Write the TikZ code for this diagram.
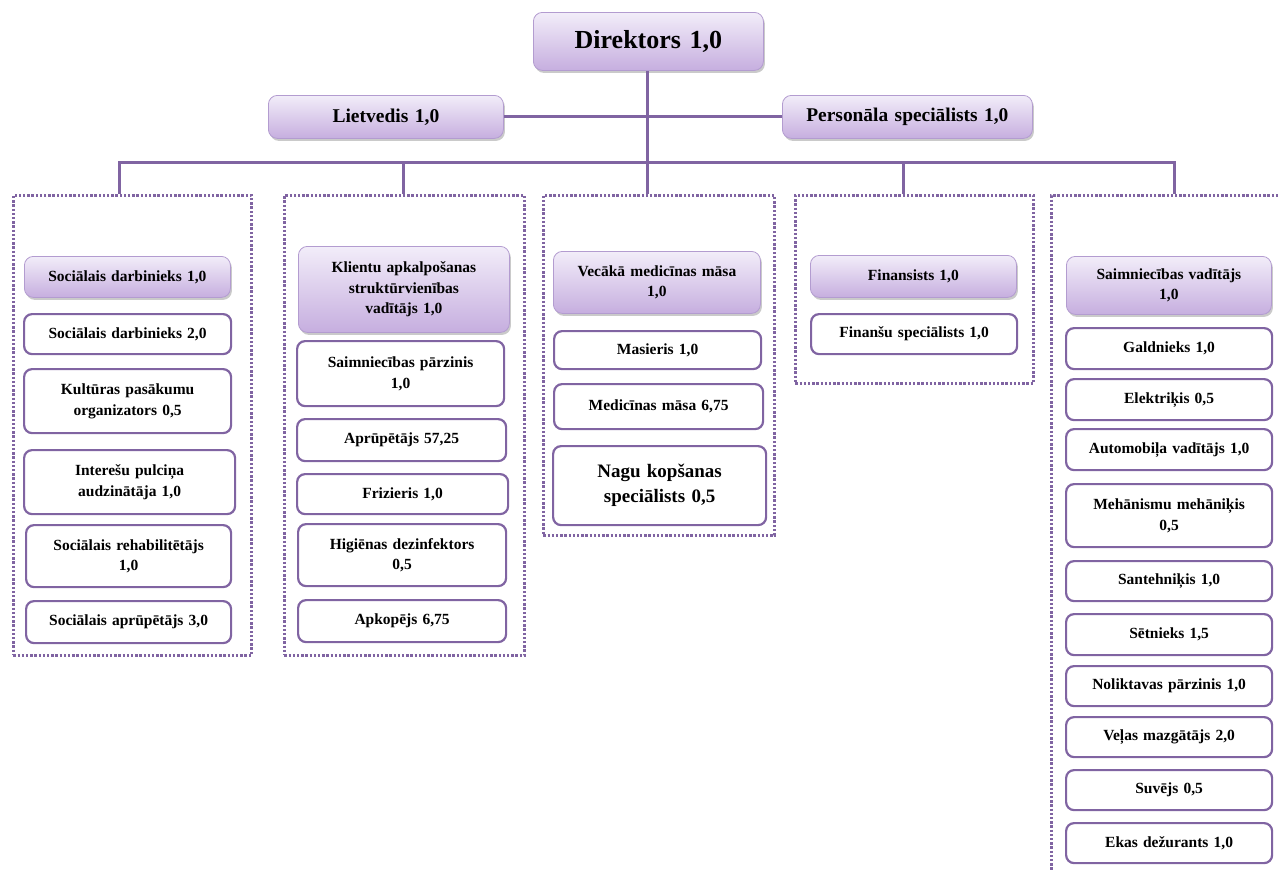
\documentclass[tikz,border=0pt]{standalone}
\usepackage{fontspec}
\setmainfont{Liberation Serif}
\usetikzlibrary{shadows}
\definecolor{lineP}{HTML}{8064A2}
\definecolor{pTop}{HTML}{F2EDF9}
\definecolor{pBot}{HTML}{C6AEDF}
\definecolor{pEdge}{HTML}{B39CD0}
\newcommand\fs[2]{\fontsize{#1}{#2}\selectfont\bfseries}
\tikzset{
  conn/.style={draw=lineP, line width=3pt},
  grp/.style={draw=lineP, line width=2.8pt, dash pattern=on 2.4pt off 1.8pt, anchor=north west, inner sep=0pt},
  wbox/.style={draw=lineP, line width=2.2pt, rounded corners=8pt, fill=white, anchor=north west, inner sep=0pt, align=center, text width=200pt, font=\fs{15.5}{20.5}},
  pbox/.style={draw=pEdge, line width=0.8pt, rounded corners=9pt, top color=pTop, bottom color=pBot,
    drop shadow={shadow xshift=1.5pt, shadow yshift=-2.5pt, opacity=0.35, fill=black!60},
    anchor=north west, inner sep=0pt, align=center, text width=200pt, font=\fs{15.5}{20.5}},
}
\begin{document}
\begin{tikzpicture}[x=1pt,y=-1pt]
\useasboundingbox (0,0) rectangle (1279,870);
\clip (0,0) rectangle (1279,870);

% top level
\node[pbox, minimum width=230pt, minimum height=58pt, text width=220pt, font=\fs{26}{30}] (dir) at (533,12) {Direktors 1,0};
\node[pbox, minimum width=235pt, minimum height=43pt, text width=225pt, font=\fs{19.5}{22}] (liet) at (268,95) {Lietvedis 1,0};
\node[pbox, minimum width=250pt, minimum height=43pt, text width=240pt, font=\fs{19.4}{22}] (pers) at (782,95) {Personāla speciālists 1,0};

% group frames
\node[grp, minimum width=238pt, minimum height=460pt] (g1) at (12,194) {};
\node[grp, minimum width=240pt, minimum height=460pt] (g2) at (283,194) {};
\node[grp, minimum width=231pt, minimum height=340pt] (g3) at (542,194) {};
\node[grp, minimum width=238pt, minimum height=188pt] (g4) at (794,194) {};
\node[grp, minimum width=270pt, minimum height=720pt] (g5) at (1050,194) {};

% drop points and bus
\coordinate (bus) at (647,162);
\coordinate (d1) at (119,194);
\coordinate (d2) at (403,194);
\coordinate (d4) at (903,194);
\coordinate (d5) at (1174,194);

\draw[conn] (dir.south -| bus) -- (bus |- g3.north);
\draw[conn] (liet.east) -- (pers.west);
\draw[conn] (d1) -- (d1 |- bus) -- (d5 |- bus) -- (d5);
\draw[conn] (d2) -- (d2 |- bus);
\draw[conn] (d4) -- (d4 |- bus);

% column 1
\node[pbox, minimum width=206pt, minimum height=41pt] (c11) at (24,256) {Sociālais darbinieks 1,0};
\node[wbox, minimum width=207pt, minimum height=40pt] (c12) at (23,313) {Sociālais darbinieks 2,0};
\node[wbox, minimum width=207pt, minimum height=64pt] (c13) at (23,368) {Kultūras pasākumu\\organizators 0,5};
\node[wbox, minimum width=211pt, minimum height=64pt] (c14) at (23,449) {Interešu pulciņa\\audzinātāja 1,0};
\node[wbox, minimum width=205pt, minimum height=62pt] (c15) at (25,524) {Sociālais rehabilitētājs\\1,0};
\node[wbox, minimum width=205pt, minimum height=42pt] (c16) at (25,600) {Sociālais aprūpētājs 3,0};

% column 2
\node[pbox, minimum width=211pt, minimum height=86pt] (c21) at (298,246) {Klientu apkalpošanas\\struktūrvienības\\vadītājs 1,0};
\node[wbox, minimum width=207pt, minimum height=65pt] (c22) at (296,340) {Saimniecības pārzinis\\1,0};
\node[wbox, minimum width=209pt, minimum height=42pt] (c23) at (296,418) {Aprūpētājs 57,25};
\node[wbox, minimum width=211pt, minimum height=40pt] (c24) at (296,473) {Frizieris 1,0};
\node[wbox, minimum width=208pt, minimum height=62pt] (c25) at (297,523) {Higiēnas dezinfektors\\0,5};
\node[wbox, minimum width=208pt, minimum height=42pt] (c26) at (297,599) {Apkopējs 6,75};

% column 3
\node[pbox, minimum width=207pt, minimum height=62pt] (c31) at (553,251) {Vecākā medicīnas māsa\\1,0};
\node[wbox, minimum width=207pt, minimum height=38pt] (c32) at (553,330) {Masieris 1,0};
\node[wbox, minimum width=209pt, minimum height=45pt] (c33) at (553,383) {Medicīnas māsa 6,75};
\node[wbox, minimum width=213pt, minimum height=79pt, font=\fs{19}{25}] (c34) at (552,445) {Nagu kopšanas\\speciālists 0,5};

% column 4
\node[pbox, minimum width=206pt, minimum height=42pt] (c41) at (810,255) {Finansists 1,0};
\node[wbox, minimum width=206pt, minimum height=40pt] (c42) at (810,313) {Finanšu speciālists 1,0};

% column 5
\node[pbox, minimum width=205pt, minimum height=58pt] (c51) at (1066,256) {Saimniecības vadītājs\\1,0};
\node[wbox, minimum width=206pt, minimum height=41pt] (c52) at (1065,327) {Galdnieks 1,0};
\node[wbox, minimum width=206pt, minimum height=41pt] (c53) at (1065,378) {Elektriķis 0,5};
\node[wbox, minimum width=206pt, minimum height=41pt] (c54) at (1065,428) {Automobiļa vadītājs 1,0};
\node[wbox, minimum width=206pt, minimum height=63pt] (c55) at (1065,483) {Mehānismu mehāniķis\\0,5};
\node[wbox, minimum width=206pt, minimum height=40pt] (c56) at (1065,560) {Santehniķis 1,0};
\node[wbox, minimum width=206pt, minimum height=41pt] (c57) at (1065,613) {Sētnieks 1,5};
\node[wbox, minimum width=206pt, minimum height=40pt] (c58) at (1065,665) {Noliktavas pārzinis 1,0};
\node[wbox, minimum width=206pt, minimum height=40pt] (c59) at (1065,716) {Veļas mazgātājs 2,0};
\node[wbox, minimum width=206pt, minimum height=40pt] (c5a) at (1065,769) {Suvējs 0,5};
\node[wbox, minimum width=206pt, minimum height=40pt] (c5b) at (1065,822) {Ekas dežurants 1,0};
\end{tikzpicture}
\end{document}
